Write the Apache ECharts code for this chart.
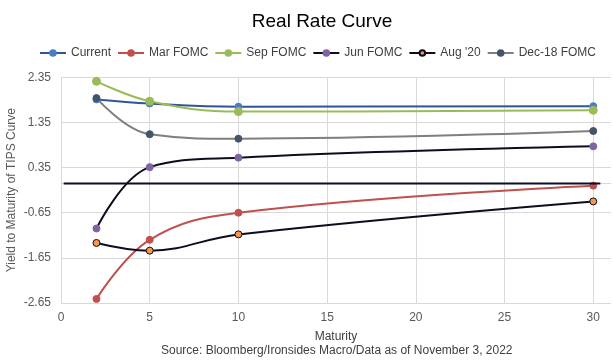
<!DOCTYPE html>
<html>
<head>
<meta charset="utf-8">
<script src="https://cdn.jsdelivr.net/npm/echarts@6/dist/echarts.min.js"></script>
<style>
html,body{margin:0;padding:0;background:#fff;}
#chart{width:613px;height:364px;}
</style>
</head>
<body>
<div id="chart"></div>
<script>
const maturities = [2, 5, 10, 30];
const current = [1.86, 1.77, 1.70, 1.71];
const marFomc = [-2.56, -1.25, -0.65, -0.05];
const sepFomc = [2.26, 1.82, 1.59, 1.62];
const junFomc = [-1.00, 0.36, 0.57, 0.82];
const aug20 = [-1.32, -1.49, -1.13, -0.40];
const dec18Fomc = [1.89, 1.09, 0.99, 1.16];
const zeroLineX = [0.15, 30.4];
const zeroLineY = [0, 0];
const annotation = {text: 'Negative Real Rates Below Line', x: 17.9, y: 0.27};

const seriesDefs = [
  {name: 'Current', data: current, line: '#2F5597', mark: '#4A7EC4', border: '#4A7EC4', size: 7},
  {name: 'Mar FOMC', data: marFomc, line: '#C0504D', mark: '#C0504D', border: '#C0504D', size: 7},
  {name: 'Sep FOMC', data: sepFomc, line: '#9BBB59', mark: '#9BBB59', border: '#9BBB59', size: 8},
  {name: 'Jun FOMC', data: junFomc, line: '#0D0D1F', mark: '#8064A2', border: '#8064A2', size: 7},
  {name: "Aug '20", data: aug20, line: '#0D0D1F', mark: '#F79646', border: '#0D0D1F', size: 7},
  {name: 'Dec-18 FOMC', data: dec18Fomc, line: '#7F7F7F', mark: '#44546A', border: '#44546A', size: 7}
];

const series = seriesDefs.map(s => ({
  name: s.name,
  type: 'line',
  smooth: 0.4,
  data: maturities.map((m, i) => [m, s.data[i]]),
  symbol: 'circle',
  symbolSize: s.size,
  lineStyle: {color: s.line, width: 2},
  itemStyle: {color: s.mark, borderColor: s.border, borderWidth: 1},
  z: 3
}));

series.unshift({
  name: 'zero',
  type: 'line',
  data: zeroLineX.map((x, i) => [x, zeroLineY[i]]),
  symbol: 'none',
  lineStyle: {color: '#0D0D26', width: 2},
  z: 4,
  markPoint: {
    symbol: 'none',
    data: [{coord: [annotation.x, annotation.y], value: annotation.text}],
    label: {show: true, formatter: annotation.text, color: '#000', fontSize: 12, fontFamily: 'Liberation Sans'}
  }
});

const chart = echarts.init(document.getElementById('chart'), null, {renderer: 'canvas'});
chart.setOption({
  animation: false,
  backgroundColor: '#fff',
  textStyle: {fontFamily: 'Liberation Sans'},
  title: {
    text: 'Real Rate Curve',
    left: 317, top: 7, textAlign: 'center',
    textStyle: {fontSize: 19, fontWeight: 'normal', color: '#000', fontFamily: 'Liberation Sans'}
  },
  legend: {
    data: seriesDefs.map(s => s.name),
    left: 34, right: 0, top: 42,
    itemWidth: 26, itemHeight: 7, itemGap: 6,
    textStyle: {fontSize: 12, color: '#404040', fontFamily: 'Liberation Sans'}
  },
  graphic: [{
    type: 'text', left: 161, top: 345,
    style: {text: 'Source: Bloomberg/Ironsides Macro/Data as of November 3, 2022', fill: '#404040', fontSize: 12, fontFamily: 'Liberation Sans'}
  }],
  grid: {left: 61, right: 2, top: 77.3, bottom: 61, containLabel: false, outerBoundsMode: 'none'},
  xAxis: {
    type: 'value', min: 0, max: 31, interval: 5,
    name: 'Maturity', nameLocation: 'middle', nameGap: 28,
    nameTextStyle: {fontSize: 12, color: '#404040'},
    axisLine: {show: true, lineStyle: {color: '#D9D9D9'}},
    axisTick: {show: false},
    axisLabel: {fontSize: 12, color: '#595959', margin: 9, showMaxLabel: false},
    splitLine: {show: true, showMaxLine: false, lineStyle: {color: '#D9D9D9'}}
  },
  yAxis: {
    type: 'value', min: -2.65, max: 2.35, interval: 1,
    name: 'Yield to Maturity of TIPS Curve', nameLocation: 'middle', nameGap: 43,
    nameMoveOverlap: false,
    nameTextStyle: {fontSize: 12, color: '#595959'},
    axisLine: {show: false},
    axisTick: {show: false},
    axisLabel: {fontSize: 12, color: '#595959', margin: 10, formatter: v => v.toFixed(2)},
    splitLine: {show: true, lineStyle: {color: '#D9D9D9'}}
  },
  series: series
});
</script>
</body>
</html>
